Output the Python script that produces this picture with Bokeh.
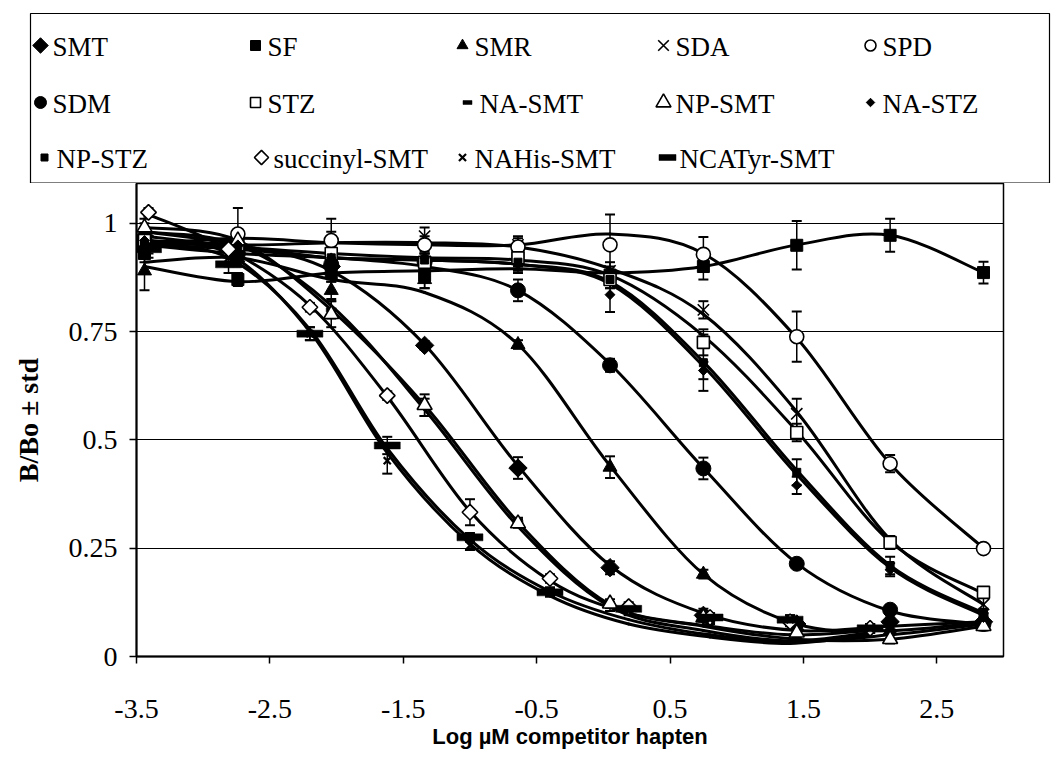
import math
from bokeh.plotting import figure
from bokeh.models import Range1d, FixedTicker, ColumnDataSource
from bokeh.layouts import column
from bokeh.embed import file_html
from bokeh.resources import INLINE
from bokeh.core.properties import value

# ---------------- data ----------------
X5 = [-3.44, -2.74, -2.04, -1.34, -0.64, 0.05, 0.75, 1.45, 2.15, 2.85]
X4 = [-3.41, -2.81, -2.20, -1.62, -1.00, -0.40, 0.19, 0.80, 1.40, 2.00]

SMT_y = [0.97, 0.95, 0.90, 0.718, 0.435, 0.205, 0.095, 0.075, 0.08, 0.08]
SMT_e = [0.02, 0.01, 0.02, 0.01, 0.025, 0.015, 0.01, 0.01, 0.01, 0.01]
SMT_c = [0.98, 0.95, 0.89, 0.72, 0.44, 0.21, 0.10, 0.06, 0.07, 0.08]

SF_y = [0.93, 0.87, 0.885, 0.88, 0.925, 0.88, 0.90, 0.949, 0.972, 0.886]
SF_e = [0.02, 0.015, 0.02, 0.03, 0.02, 0.02, 0.03, 0.056, 0.038, 0.025]
SF_c = [0.90, 0.865, 0.885, 0.89, 0.895, 0.885, 0.90, 0.95, 0.972, 0.886]

SMR_y = [0.89, 0.92, 0.845, 0.87, 0.72, 0.437, 0.19, 0.07, 0.06, 0.085]
SMR_e = [0.045, 0.02, 0.02, 0.02, 0.01, 0.025, 0.01, 0.01, 0.01, 0.01]
SMR_c = [0.91, 0.92, 0.87, 0.84, 0.72, 0.44, 0.19, 0.075, 0.06, 0.08]

SDA_y = [0.97, 0.94, 0.955, 0.97, 0.95, 0.89, 0.80, 0.56, 0.263, 0.12]
SDA_e = [0.02, 0.02, 0.055, 0.02, 0.02, 0.02, 0.02, 0.035, 0.015, 0.02]
SDA_c = [0.97, 0.95, 0.955, 0.955, 0.945, 0.895, 0.79, 0.565, 0.27, 0.12]

SPD_y = [0.96, 0.975, 0.96, 0.95, 0.945, 0.95, 0.928, 0.738, 0.445, 0.249]
SPD_e = [0.02, 0.06, 0.02, 0.02, 0.02, 0.07, 0.04, 0.058, 0.02, 0.01]
SPD_c = [0.95, 0.965, 0.955, 0.95, 0.95, 0.975, 0.93, 0.735, 0.445, 0.25]

SDM_y = [0.95, 0.93, 0.905, 0.91, 0.845, 0.672, 0.434, 0.214, 0.108, 0.075]
SDM_e = [0.02, 0.02, 0.02, 0.02, 0.025, 0.015, 0.025, 0.01, 0.01, 0.01]
SDM_c = [0.95, 0.93, 0.92, 0.90, 0.845, 0.675, 0.435, 0.215, 0.105, 0.075]

STZ_y = [0.96, 0.95, 0.93, 0.91, 0.92, 0.87, 0.725, 0.517, 0.263, 0.148]
STZ_e = [0.02, 0.02, 0.02, 0.02, 0.02, 0.02, 0.03, 0.02, 0.015, 0.01]
STZ_c = [0.96, 0.945, 0.93, 0.92, 0.915, 0.88, 0.74, 0.52, 0.265, 0.145]

NASMT_y = [0.98, 0.95, 0.80, 0.575, 0.31, 0.115, 0.10, 0.07, 0.06, 0.08]
NASMT_e = [0.02, 0.02, 0.02, 0.02, 0.01, 0.01, 0.01, 0.01, 0.01, 0.01]
NASMT_c = [0.98, 0.95, 0.81, 0.57, 0.30, 0.115, 0.06, 0.035, 0.05, 0.075]

NPSMT_y = [0.99, 0.96, 0.79, 0.58, 0.307, 0.122, 0.09, 0.055, 0.04, 0.07]
NPSMT_e = [0.02, 0.02, 0.03, 0.025, 0.01, 0.01, 0.01, 0.01, 0.01, 0.01]
NPSMT_c = [0.99, 0.96, 0.80, 0.58, 0.31, 0.12, 0.07, 0.04, 0.04, 0.07]

NASTZ_y = [0.96, 0.95, 0.92, 0.92, 0.905, 0.835, 0.66, 0.395, 0.20, 0.09]
NASTZ_e = [0.02, 0.02, 0.02, 0.02, 0.02, 0.04, 0.02, 0.02, 0.015, 0.01]
NASTZ_c = [0.955, 0.945, 0.92, 0.915, 0.905, 0.86, 0.67, 0.42, 0.205, 0.095]

NPSTZ_y = [0.95, 0.94, 0.92, 0.915, 0.91, 0.87, 0.678, 0.425, 0.21, 0.10]
NPSTZ_e = [0.02, 0.02, 0.02, 0.02, 0.02, 0.02, 0.065, 0.03, 0.02, 0.01]
NPSTZ_c = [0.95, 0.94, 0.92, 0.915, 0.905, 0.865, 0.68, 0.43, 0.21, 0.10]

SUCC_y = [1.025, 0.94, 0.806, 0.602, 0.333, 0.18, 0.115, 0.09, 0.08, 0.065]
SUCC_e = [0.01, 0.02, 0.01, 0.01, 0.03, 0.01, 0.01, 0.01, 0.01, 0.01]
SUCC_c = [1.02, 0.94, 0.81, 0.60, 0.335, 0.175, 0.10, 0.07, 0.05, 0.06]

NAHIS_y = [0.95, 0.92, 0.745, 0.452, 0.256, 0.15, 0.105, 0.085, 0.085, 0.065]
NAHIS_e = [0.02, 0.02, 0.015, 0.03, 0.01, 0.01, 0.01, 0.01, 0.01, 0.01]
NAHIS_c = [0.96, 0.93, 0.75, 0.47, 0.26, 0.14, 0.075, 0.045, 0.03, 0.05]

NCAT_y = [0.94, 0.905, 0.745, 0.487, 0.275, 0.148, 0.11, 0.09, 0.085, 0.065]
NCAT_e = [0.02, 0.02, 0.015, 0.02, 0.01, 0.01, 0.01, 0.01, 0.01, 0.01]
NCAT_c = [0.95, 0.92, 0.755, 0.48, 0.27, 0.15, 0.085, 0.05, 0.035, 0.055]

NAMES = ["SMT", "SF", "SMR", "SDA", "SPD", "SDM", "STZ", "NA-SMT", "NP-SMT",
         "NA-STZ", "NP-STZ", "succinyl-SMT", "NAHis-SMT", "NCATyr-SMT"]

X_TICKS = [-3.5, -2.5, -1.5, -0.5, 0.5, 1.5, 2.5]
X_LABELS = ["-3.5", "-2.5", "-1.5", "-0.5", "0.5", "1.5", "2.5"]
Y_TICKS = [0, 0.25, 0.5, 0.75, 1]
Y_LABELS = ["0", "0.25", "0.5", "0.75", "1"]

SERIES = [
    (X5, SMT_y, SMT_e, SMT_c), (X5, SF_y, SF_e, SF_c), (X5, SMR_y, SMR_e, SMR_c),
    (X5, SDA_y, SDA_e, SDA_c), (X5, SPD_y, SPD_e, SPD_c), (X5, SDM_y, SDM_e, SDM_c),
    (X5, STZ_y, STZ_e, STZ_c), (X5, NASMT_y, NASMT_e, NASMT_c),
    (X5, NPSMT_y, NPSMT_e, NPSMT_c), (X5, NASTZ_y, NASTZ_e, NASTZ_c),
    (X5, NPSTZ_y, NPSTZ_e, NPSTZ_c), (X4, SUCC_y, SUCC_e, SUCC_c),
    (X4, NAHIS_y, NAHIS_e, NAHIS_c), (X4, NCAT_y, NCAT_e, NCAT_c),
]

# ---------------- styles ----------------
# kind, marker, size, angle, fill, line_width, legend size
STYLE = {
    "SMT": ("scatter", "square", 13, math.pi / 4, "black", 1, 11),
    "SF": ("scatter", "square", 12, 0, "black", 1, 10),
    "SMR": ("scatter", "triangle", 14, 0, "black", 1, 11),
    "SDA": ("scatter", "x", 16, 0, None, 1.6, 15),
    "SPD": ("scatter", "circle", 14, 0, "white", 1.6, 11),
    "SDM": ("scatter", "circle", 15, 0, "black", 1, 12),
    "STZ": ("scatter", "square", 12, 0, "white", 1.6, 10),
    "NA-SMT": ("rect", None, (10, 4), 0, "black", 1, (9, 4)),
    "NP-SMT": ("scatter", "triangle", 15, 0, "white", 1.6, 15),
    "NA-STZ": ("scatter", "square", 7, math.pi / 4, "black", 1, 6),
    "NP-STZ": ("scatter", "square", 8, 0, "black", 1, 7),
    "succinyl-SMT": ("scatter", "square", 11, math.pi / 4, "white", 1.6, 10),
    "NAHis-SMT": ("scatter", "x", 10, 0, None, 2.2, 10),
    "NCATyr-SMT": ("rect", None, (26, 7), 0, "black", 1, (17, 6)),
}

LEG_POS = [  # (marker x, row y) in legend pixels
    (40, 45), (255, 45), (462, 45), (663, 45), (870, 45),
    (40, 102), (255, 102), (467, 102), (663, 102), (870, 102),
    (44, 157), (261, 157), (462, 157), (667, 157),
]

SERIF = value("Liberation Serif")


def draw_marker(fig, xs, ys, name, legend=False):
    kind, mk, size, ang, fill, lw, lsize = STYLE[name]
    if legend:
        size = lsize
    if kind == "rect":
        fig.rect(x=xs, y=ys, width=size[0], height=size[1], width_units="screen",
                 height_units="screen", fill_color="black", line_color="black",
                 line_width=0.5)
    else:
        fig.scatter(x=xs, y=ys, marker=mk, size=size, angle=ang,
                    fill_color=fill, line_color="black", line_width=lw)


def bezier_source(xs, ys):
    n = len(xs)
    d = dict(x0=[], y0=[], x1=[], y1=[], cx0=[], cy0=[], cx1=[], cy1=[])
    for i in range(n - 1):
        ip = max(i - 1, 0)
        i2 = min(i + 2, n - 1)
        d["x0"].append(xs[i]); d["y0"].append(ys[i])
        d["x1"].append(xs[i + 1]); d["y1"].append(ys[i + 1])
        d["cx0"].append(xs[i] + (xs[i + 1] - xs[ip]) / 6.0)
        d["cy0"].append(ys[i] + (ys[i + 1] - ys[ip]) / 6.0)
        d["cx1"].append(xs[i + 1] - (xs[i2] - xs[i]) / 6.0)
        d["cy1"].append(ys[i + 1] - (ys[i2] - ys[i]) / 6.0)
    return ColumnDataSource(d)


# ---------------- legend figure ----------------
leg = figure(width=1051, height=183, x_range=Range1d(0, 1051), y_range=Range1d(183, 0),
             toolbar_location=None, output_backend="svg", min_border=0)
leg.frame_align = False
leg.axis.visible = False
leg.grid.visible = False
leg.outline_line_color = None
leg.background_fill_color = "white"
leg.border_fill_color = "white"
leg.quad(left=[30], right=[1049], top=[13], bottom=[182.5], fill_color="white",
         line_color="black", line_width=1.2)
for name, (mx, my) in zip(NAMES, LEG_POS):
    draw_marker(leg, [mx], [my], name, legend=True)
    leg.text(x=[mx + 12], y=[my + 1], text=[name], text_font=SERIF,
             text_font_size="27px", text_baseline="middle", text_align="left",
             text_color="black")

# ---------------- main figure ----------------
p = figure(width=1051, height=574, x_range=Range1d(-3.5, 3.0), y_range=Range1d(0, 1.0916),
           toolbar_location=None, output_backend="svg",
           min_border_left=136, min_border_right=48, min_border_top=0, min_border_bottom=101)
p.frame_align = False
p.background_fill_color = "white"
p.border_fill_color = "white"
p.outline_line_color = "black"
p.outline_line_width = 1.5
p.xgrid.visible = False
p.ygrid.ticker = FixedTicker(ticks=Y_TICKS)
p.ygrid.grid_line_color = "black"
p.ygrid.grid_line_width = 1

p.xaxis.ticker = FixedTicker(ticks=X_TICKS)
p.xaxis.major_label_overrides = {t: l for t, l in zip(X_TICKS, X_LABELS)}
p.yaxis.ticker = FixedTicker(ticks=Y_TICKS)
p.yaxis.major_label_overrides = {t: l for t, l in zip(Y_TICKS, Y_LABELS)}
for ax in (p.xaxis[0], p.yaxis[0]):
    ax.axis_line_color = "black"
    ax.axis_line_width = 2
    ax.major_tick_line_color = "black"
    ax.major_tick_line_width = 1.5
    ax.major_tick_out = 7
    ax.major_tick_in = 0
    ax.minor_tick_line_color = None
    ax.major_label_text_font = "Liberation Serif"
    ax.major_label_text_font_size = "28px"
    ax.major_label_text_color = "black"
    ax.axis_label_text_color = "black"
p.xaxis.major_label_standoff = 36
p.yaxis.major_label_standoff = 12
p.xaxis.axis_label = "Log \u00b5M competitor hapten"
p.xaxis.axis_label_text_font = "Liberation Sans"
p.xaxis.axis_label_text_font_style = "bold"
p.xaxis.axis_label_text_font_size = "22px"
p.xaxis.axis_label_standoff = 3
p.yaxis.axis_label = "B/Bo \u00b1 std"
p.yaxis.axis_label_text_font = "Liberation Serif"
p.yaxis.axis_label_text_font_style = "bold"
p.yaxis.axis_label_text_font_size = "28px"
p.yaxis.axis_label_standoff = 22

for name, (xs, ys, es, cs) in zip(NAMES, SERIES):
    src = bezier_source(xs, cs)
    p.bezier(x0="x0", y0="y0", x1="x1", y1="y1", cx0="cx0", cy0="cy0",
             cx1="cx1", cy1="cy1", source=src, line_color="black", line_width=3,
             line_cap="round")

for name, (xs, ys, es, cs) in zip(NAMES, SERIES):
    lo = [y - e for y, e in zip(ys, es)]
    hi = [y + e for y, e in zip(ys, es)]
    p.segment(x0=xs, y0=lo, x1=xs, y1=hi, line_color="black", line_width=1.5)
    p.scatter(x=xs + xs, y=lo + hi, marker="dash", size=10, line_color="black",
              line_width=2)

for name, (xs, ys, es, cs) in zip(NAMES, SERIES):
    draw_marker(p, xs, ys, name)

layout = column(leg, p, spacing=0)
open("out.html", "w").write(file_html(layout, INLINE))
